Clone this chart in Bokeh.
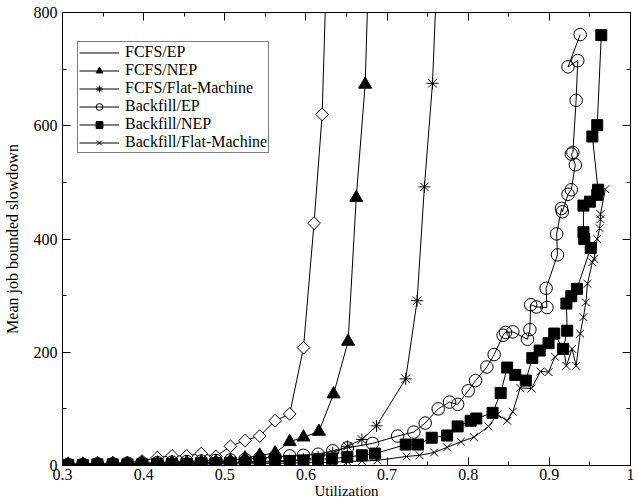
import numpy as np
from bokeh.plotting import figure
from bokeh.models import (FixedTicker, LinearAxis, Legend, LegendItem,
                          CustomJSTickFormatter, Range1d)
from bokeh.embed import file_html
from bokeh.resources import INLINE

# ---------------- data ----------------
low_x = [0.307, 0.325, 0.343, 0.362, 0.380, 0.398, 0.417, 0.435, 0.453,
         0.471, 0.489, 0.507, 0.525, 0.543, 0.562, 0.580, 0.597]

fcfs_ep_x = low_x + [0.610, 0.620, 0.630]
fcfs_ep_y = [2, 3, 3, 4, 5, 8, 14, 17, 17, 21, 16, 34, 44, 52, 79, 91, 208,
             428, 620, 1100]

fcfs_nep_x = low_x + [0.616, 0.634, 0.652, 0.662, 0.673, 0.683]
fcfs_nep_y = [2, 2, 3, 3, 3, 4, 4, 5, 5, 6, 6, 8, 13, 18, 22, 42, 50,
              60, 126, 219, 473, 673, 1150]

fcfs_flat_x = low_x + [0.615, 0.633, 0.651, 0.669, 0.687, 0.723, 0.737,
                       0.746, 0.756, 0.768]
fcfs_flat_y = [1, 1, 2, 2, 2, 3, 3, 3, 4, 4, 5, 5, 6, 7, 8, 9, 11,
               15, 22, 34, 46, 70, 153, 291, 492, 675, 1100]

bf_ep_x = low_x + [0.615, 0.633, 0.651, 0.682, 0.713, 0.733, 0.747, 0.763,
                   0.777, 0.787, 0.800, 0.809, 0.823, 0.832, 0.843, 0.846,
                   0.855, 0.873, 0.876, 0.877, 0.884, 0.897, 0.896, 0.910,
                   0.909, 0.915, 0.916, 0.923, 0.927, 0.932, 0.927, 0.929,
                   0.933, 0.935, 0.923, 0.938]
bf_ep_y = [2, 2, 3, 3, 4, 4, 5, 6, 7, 8, 9, 10, 11, 13, 15, 17, 18,
           20, 26, 31, 39, 52, 59, 75, 100, 112, 108, 132, 150, 174, 196,
           230, 235, 236, 223, 240, 284, 280, 279, 313, 372, 409, 454, 448,
           479, 487, 531, 550, 553, 645, 715, 704, 761]

bf_nep_x = low_x[:15] + [0.580, 0.597, 0.615, 0.632, 0.651, 0.669, 0.685,
                         0.723, 0.738, 0.755, 0.774, 0.787, 0.803, 0.810,
                         0.830, 0.840, 0.848, 0.858, 0.871, 0.879, 0.888,
                         0.899, 0.906, 0.917, 0.922, 0.921, 0.927, 0.934,
                         0.951, 0.943, 0.942, 0.942, 0.950, 0.959, 0.960,
                         0.953, 0.959, 0.964]
bf_nep_y = [1, 1, 2, 2, 2, 2, 3, 3, 3, 4, 4, 5, 5, 6, 6,
            8, 9, 11, 12, 15, 18, 21, 37, 37, 49, 53, 69, 79, 83, 93, 128,
            173, 160, 150, 190, 203, 216, 233, 206, 238, 286, 299, 312, 384,
            400, 412, 459, 466, 478, 487, 581, 601, 760]

bf_flat_x = low_x + [0.615, 0.633, 0.651, 0.669, 0.688, 0.724, 0.740, 0.758,
                     0.774, 0.791, 0.807, 0.825, 0.836, 0.848, 0.855, 0.864,
                     0.878, 0.889, 0.899, 0.907, 0.918, 0.921, 0.928, 0.933,
                     0.938, 0.942, 0.945, 0.947, 0.953, 0.955, 0.959, 0.962,
                     0.963, 0.963, 0.969]
bf_flat_y = [1, 1, 1, 1, 1, 2, 2, 2, 2, 2, 3, 3, 3, 3, 4, 4, 5,
             5, 6, 7, 8, 9, 16, 18, 23, 32, 42, 50, 69, 90, 79, 95, 137, 136,
             166, 165, 192, 203, 176, 206, 176, 233, 262, 288, 321, 359, 365,
             400, 419, 435, 444, 488]

series_names = ["FCFS/EP", "FCFS/NEP", "FCFS/Flat-Machine",
                "Backfill/EP", "Backfill/NEP", "Backfill/Flat-Machine"]

x_ticks = [0.3, 0.4, 0.5, 0.6, 0.7, 0.8, 0.9, 1.0]
x_minor = [0.35, 0.45, 0.55, 0.65, 0.75, 0.85, 0.95]
y_ticks = [0, 200, 400, 600, 800]
y_minor = [100, 300, 500, 700]

FONT = "Liberation Serif"

# ---------------- figure ----------------
p = figure(frame_width=568, frame_height=453,
           x_range=Range1d(0.3, 1.0), y_range=Range1d(0, 800),
           output_backend="svg", toolbar_location=None,
           min_border_left=56, min_border_right=4, min_border_top=12,
           min_border_bottom=10)
p.xgrid.visible = False
p.ygrid.visible = False
p.outline_line_color = "black"
p.outline_line_width = 1
p.background_fill_color = "white"
p.border_fill_color = "white"

xfmt = CustomJSTickFormatter(code="return Math.abs(tick-1)<1e-9 ? '1' : tick.toFixed(1);")
yfmt = CustomJSTickFormatter(code="return tick.toFixed(0);")


def style_axis(ax, labels=True):
    ax.major_tick_in = 8
    ax.major_tick_out = 0
    ax.minor_tick_in = 4
    ax.minor_tick_out = 0
    ax.major_tick_line_color = "black"
    ax.minor_tick_line_color = "black"
    ax.axis_line_color = "black"
    if labels:
        ax.major_label_text_font = FONT
        ax.major_label_text_font_size = "16px"
        ax.major_label_text_color = "black"
        ax.axis_label_text_font = FONT
        ax.axis_label_text_font_size = "15px"
        ax.axis_label_text_font_style = "normal"
        ax.axis_label_text_color = "black"
    else:
        ax.major_label_text_color = None
        ax.major_label_text_font_size = "1px"
        ax.major_label_standoff = 0


xax = p.xaxis[0]
xax.ticker = FixedTicker(ticks=x_ticks, minor_ticks=x_minor)
xax.formatter = xfmt
xax.axis_label = "Utilization"
style_axis(xax)
xax.major_label_standoff = 3
xax.axis_label_standoff = 0

yax = p.yaxis[0]
yax.ticker = FixedTicker(ticks=y_ticks, minor_ticks=y_minor)
yax.formatter = yfmt
yax.axis_label = "Mean job bounded slowdown"
style_axis(yax)
yax.axis_label_text_font_size = "16px"
yax.major_label_standoff = 5
yax.axis_label_standoff = 10

top = LinearAxis(ticker=FixedTicker(ticks=x_ticks, minor_ticks=x_minor), formatter=xfmt)
style_axis(top, labels=False)
p.add_layout(top, "above")
right = LinearAxis(ticker=FixedTicker(ticks=y_ticks, minor_ticks=y_minor), formatter=yfmt)
style_axis(right, labels=False)
p.add_layout(right, "right")

specs = [
    (fcfs_ep_x, fcfs_ep_y, dict(marker="square", size=9, angle=np.pi / 4, fill_color="white"), "diamond"),
    (fcfs_nep_x, fcfs_nep_y, dict(marker="triangle", size=13, fill_color="black"), None),
    (fcfs_flat_x, fcfs_flat_y, dict(marker="asterisk", size=12, fill_color=None), None),
    (bf_ep_x, bf_ep_y, dict(marker="circle", size=12.5, fill_color=None), None),
    (bf_nep_x, bf_nep_y, dict(marker="square", size=11, fill_color="black"), None),
    (bf_flat_x, bf_flat_y, dict(marker="x", size=11, fill_color=None), None),
]

items = []
for name, (xs, ys, mk, legend_marker) in zip(series_names, specs):
    ln = p.line(xs, ys, line_color="black", line_width=1)
    sc = p.scatter(xs, ys, line_color="black", line_width=1, **mk)
    if legend_marker is not None:
        # legend-only glyph (no data) so that the key shows a diamond
        lg = p.scatter(x=[], y=[], marker=legend_marker, line_color="black",
                       fill_color="white", line_width=1)
        items.append(LegendItem(label=name, renderers=[ln, lg]))
    else:
        items.append(LegendItem(label=name, renderers=[ln, sc]))

legend = Legend(items=items, location=(15, 312),
                label_text_font=FONT, label_text_font_size="16px",
                label_text_color="black",
                border_line_color="black", border_line_width=1,
                background_fill_color="white", background_fill_alpha=1,
                glyph_width=40, glyph_height=17, label_height=17,
                label_standoff=6, spacing=0, padding=1, margin=0)
p.add_layout(legend, "center")

open("out.html", "w").write(file_html(p, INLINE))
